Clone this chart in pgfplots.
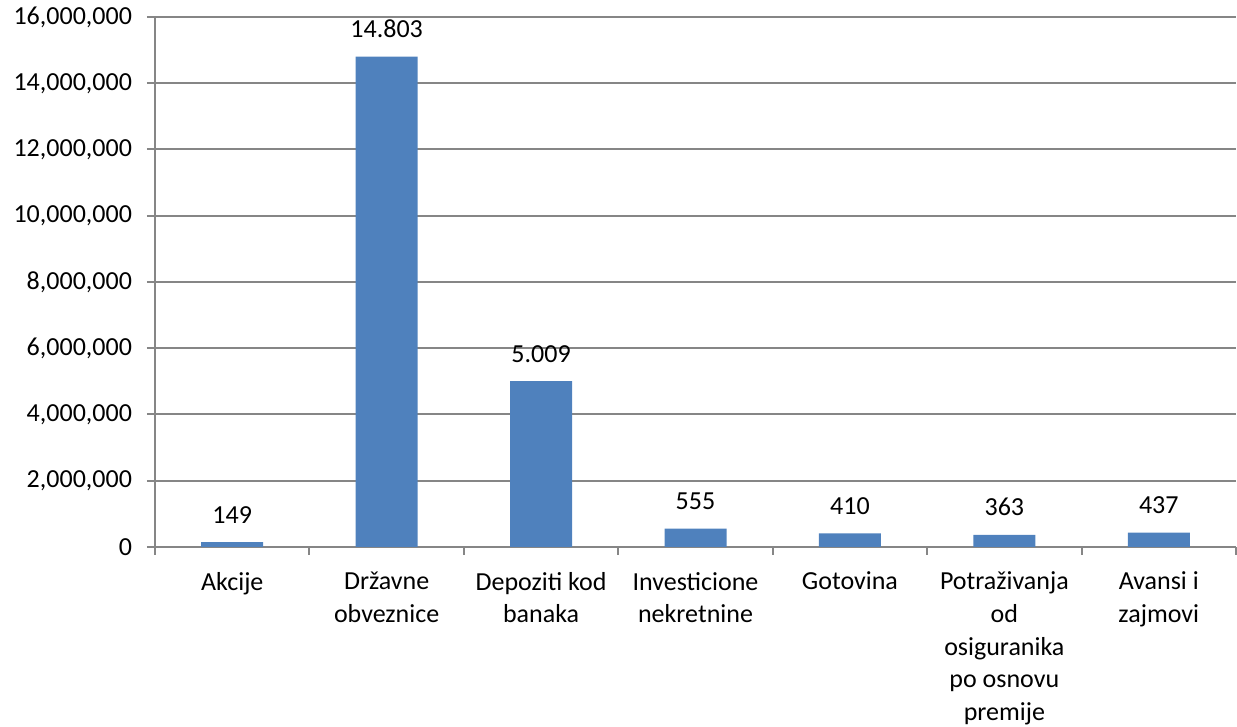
\documentclass[border=0pt]{standalone}
\usepackage{fontspec}
\setmainfont{Carlito}
\usepackage{pgfplots}
\pgfplotsset{compat=1.18}
\definecolor{barblue}{HTML}{4F81BD}
\definecolor{gridgray}{HTML}{868686}

\begin{document}
\begin{tikzpicture}
\begin{axis}[
    scale only axis,
    width=540.5pt, height=265pt,
    xmin=-0.5, xmax=6.5,
    ymin=0, ymax=16000000,
    ytick={0,2000000,...,16000000},
    scaled y ticks=false,
    y tick label style={/pgf/number format/fixed, /pgf/number format/precision=0,
        /pgf/number format/1000 sep={,}, /pgf/number format/assume math mode=true,
        font=\fontsize{13}{16.25}\selectfont, xshift=-4pt},
    xtick={-0.5,0.5,...,6.5},
    xticklabels={},
    extra x ticks={0,1,2,3,4,5,6},
    extra x tick labels={Akcije, Državne\\obveznice, Depoziti kod\\banaka, Investicione\\nekretnine, Gotovina, Potraživanja\\od\\osiguranika\\po osnovu\\premije, Avansi i\\zajmovi},
    extra x tick style={tick style={draw=none}, grid=none,
        tick label style={align=center, anchor=north, yshift=-5pt, font=\fontsize{13}{16.3}\selectfont}},
    tick align=outside,
    major tick length=4pt,
    tick style={draw=gridgray, line width=1pt},
    axis x line*=bottom, axis y line*=left,
    axis line style={-, draw=gridgray, line width=1pt},
    ymajorgrids,
    major grid style={draw=gridgray, line width=1pt},
    ybar, bar width=31pt,
    nodes near coords,
    point meta={y/1000},
    every node near coord/.append style={/pgf/number format/fixed, /pgf/number format/precision=0,
        /pgf/number format/1000 sep={.}, /pgf/number format/assume math mode=true,
        anchor=base, yshift=9.5pt, font=\fontsize{13}{16.25}\selectfont, black},
]
\addplot[fill=barblue, draw=none] coordinates {
    (0,149000)
    (1,14803000)
    (2,5009000)
    (3,555000)
    (4,410000)
    (5,363000)
    (6,437000)
};
\end{axis}
\pgfresetboundingbox
\path (current axis.south west) ++(-77.5pt,-90pt) rectangle ++(618.5pt,363.5pt);
\end{tikzpicture}
\end{document}
